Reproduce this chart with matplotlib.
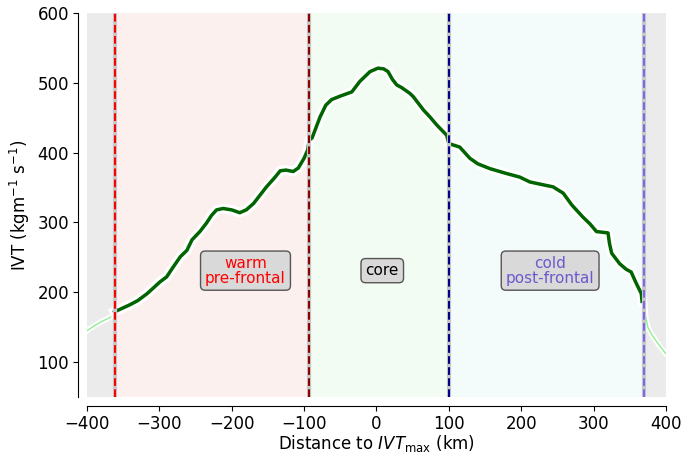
import numpy as np
import matplotlib.pyplot as plt
import matplotlib.patheffects as pe

# IVT along the cross-section, distance relative to IVT max (km)
dist_main = [-362, -341, -330, -317, -299, -290, -281, -271, -262, -255, -244,
             -235, -228, -221, -212, -200, -189, -180, -170, -161, -152, -140,
             -133, -125, -115, -108, -100, -95, -93, -89, -78, -70, -62, -50,
             -34, -23, -9, 2, 10, 16, 22, 28, 35, 46, 51, 65, 74, 83, 97, 100,
             115, 129, 140, 157, 180, 198, 212, 230, 244, 258, 270, 285, 295,
             304, 320, 322, 325, 336, 345, 352, 358, 366, 367]
ivt_main = [172, 182, 188, 198, 215, 222, 236, 251, 260, 275, 287, 299, 310,
            318, 320, 318, 314, 318, 327, 339, 351, 365, 374, 375, 373, 378,
            392, 404, 418, 421, 451, 468, 476, 481, 487, 502, 516, 521, 520,
            516, 505, 497, 493, 485, 480, 461, 451, 440, 425, 413, 408, 392,
            384, 377, 370, 365, 358, 354, 351, 342, 325, 308, 298, 287, 285,
            270, 256, 241, 233, 229, 215, 198, 187]

# outside the frontal sections
dist_left = [-400, -390, -380, -370, -362]
ivt_left = [145, 152, 158, 163, 168]
dist_right = [370, 372, 375, 380, 390, 400]
ivt_right = [190, 165, 150, 140, 125, 112]

# section borders
x_start = -362
x_warm_core = -93
x_core_cold = 100
x_end = 370

fig, ax = plt.subplots(figsize=(6.83, 4.53), dpi=100)
fig.subplots_adjust(left=0.1274, right=0.975, top=0.9713, bottom=0.1236)

# shaded sections
ax.axvspan(-400, x_start, color='#ebebeb', lw=0)
ax.axvspan(x_start, x_warm_core, color='#fcf0ee', lw=0)
ax.axvspan(x_warm_core, x_core_cold, color='#f2fcf2', lw=0)
ax.axvspan(x_core_cold, x_end, color='#f4fbfb', lw=0)
ax.axvspan(x_end, 400, color='#ebebeb', lw=0)

halo = [pe.Stroke(linewidth=7, foreground='white'), pe.Normal()]
thin_halo = [pe.Stroke(linewidth=4, foreground='white'), pe.Normal()]

ax.plot(dist_left, ivt_left, color='lightgreen', lw=1, path_effects=thin_halo)
ax.plot(dist_right, ivt_right, color='lightgreen', lw=1, path_effects=thin_halo)
ax.plot(dist_main, ivt_main, color='darkgreen', lw=2.5, path_effects=halo,
        zorder=3)

# section borders
for xv, c in [(x_start, 'red'), (x_warm_core, 'darkred'),
              (x_core_cold, 'darkblue'), (x_end, 'mediumslateblue')]:
    ax.axvline(xv, color='#c8c8c8', lw=3, zorder=4)
    ax.axvline(xv, color=c, lw=1.5, ls='--', zorder=5)

box = dict(boxstyle='round,pad=0.3', facecolor='#d9d9d9', edgecolor='#555555')
ax.text(-181, 231, 'warm\npre-frontal', color='red', fontsize=11,
        ha='center', va='center', bbox=box, linespacing=1.0)
ax.text(8, 231, 'core', color='black', fontsize=11,
        ha='center', va='center', bbox=box)
ax.text(240, 231, 'cold\npost-frontal', color='slateblue', fontsize=11,
        ha='center', va='center', bbox=box, linespacing=1.0)

ax.set_xlim(-400, 400)
ax.set_ylim(50, 600)
ax.set_xticks([-400, -300, -200, -100, 0, 100, 200, 300, 400])
ax.set_yticks([100, 200, 300, 400, 500, 600])
ax.tick_params(labelsize=12, pad=3)
ax.set_xlabel('Distance to $IVT_{\\max}$ (km)', fontsize=12, labelpad=0)
ax.set_ylabel('IVT (kgm$^{-1}$ s$^{-1}$)', fontsize=12)

ax.spines['top'].set_visible(False)
ax.spines['right'].set_visible(False)
ax.spines['left'].set_position(('outward', 6.5))
ax.spines['bottom'].set_position(('outward', 6.5))

plt.savefig('out.png', dpi=100)
